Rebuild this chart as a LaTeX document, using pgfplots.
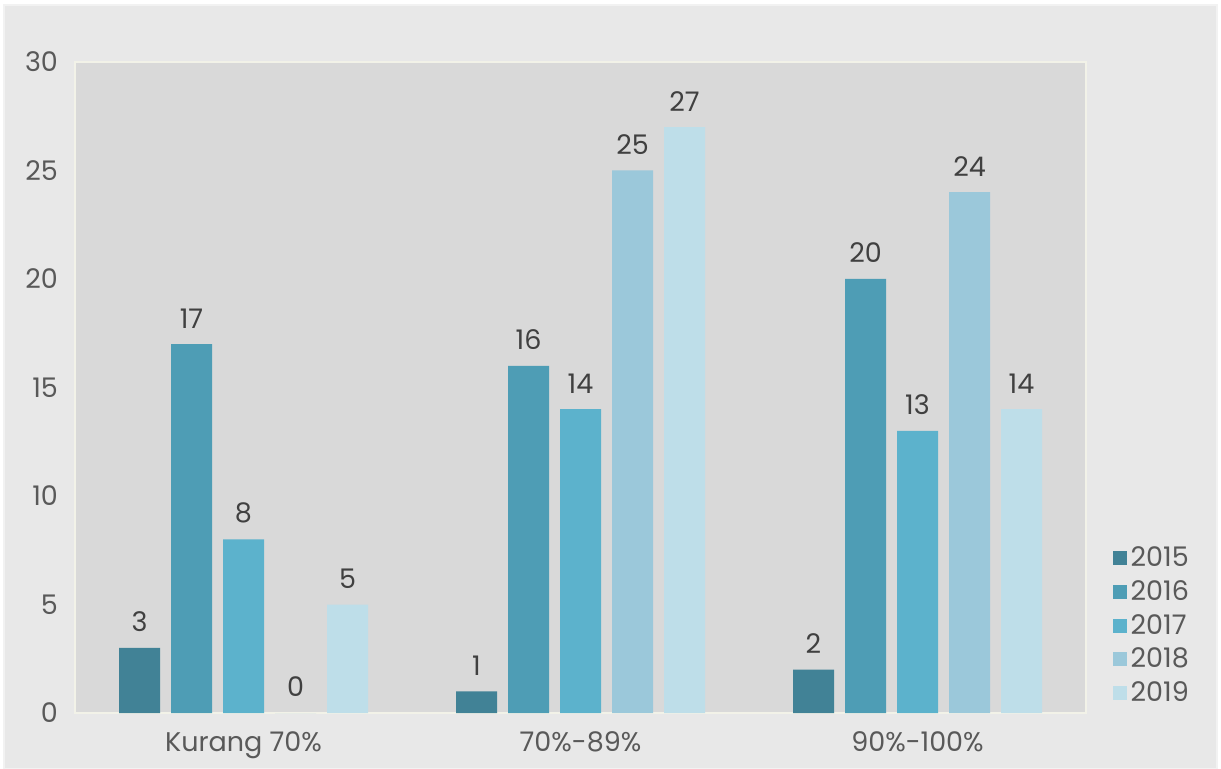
\documentclass[border=0pt]{standalone}
\usepackage{pgfplots}
\pgfplotsset{compat=1.18}
\usepackage{fontspec}
\setmainfont{Poppins}
\definecolor{outerbg}{RGB}{232,232,232}
\definecolor{plotbg}{RGB}{217,217,217}
\definecolor{frame}{RGB}{242,242,232}
\definecolor{txt}{RGB}{89,89,89}
\definecolor{lbl}{RGB}{64,64,64}
\definecolor{cA}{RGB}{65,130,150}
\definecolor{cB}{RGB}{78,157,181}
\definecolor{cC}{RGB}{92,178,204}
\definecolor{cD}{RGB}{155,200,218}
\definecolor{cE}{RGB}{190,222,233}
\begin{document}
\begin{tikzpicture}[x=0.5pt,y=-0.5pt]
\useasboundingbox (0,0) rectangle (1221,769);
\fill[white] (0,0) rectangle (1221,769);
\fill[outerbg] (4,5) rectangle (1217,769);
\draw[white!90!gray, line width=0.6pt] (4,5) rectangle (1217,769);
\begin{axis}[
  at={(37.5pt,-356.5pt)}, anchor=south west,
  scale only axis, width=505.5pt, height=325.5pt,
  ybar=5.5pt, bar width=20.5pt,
  xmin=-0.5, xmax=2.5, ymin=0, ymax=30,
  xtick={0,1,2}, xticklabels={Kurang 70\%,70\%-89\%,90\%-100\%},
  ytick={0,5,10,15,20,25,30},
  major tick length=0pt,
  axis background/.style={fill=plotbg},
  axis line style={draw=frame, line width=0.8pt},
  font=\fontsize{13.5}{16}\selectfont,
  tick label style={text=txt},
  /pgf/number format/assume math mode=true,
  xticklabel style={yshift=-6pt},
  yticklabel style={xshift=-5pt},
  nodes near coords,
  nodes near coords style={text=lbl, yshift=4.5pt, font=\fontsize{13.5}{16}\selectfont},
  legend style={at={(1.02,0.268)}, anchor=north west, draw=none, fill=none,
    font=\fontsize{13.5}{16}\selectfont, text=txt, row sep=1.4pt},
  legend cell align=left,
  legend image code/.code={\fill[#1] (0pt,-3.5pt) rectangle (7pt,3.5pt);},
]
\addplot[fill=cA, draw=none] coordinates {(0,3) (1,1) (2,2)};
\addplot[fill=cB, draw=none] coordinates {(0,17) (1,16) (2,20)};
\addplot[fill=cC, draw=none] coordinates {(0,8) (1,14) (2,13)};
\addplot[fill=cD, draw=none] coordinates {(0,0) (1,25) (2,24)};
\addplot[fill=cE, draw=none] coordinates {(0,5) (1,27) (2,14)};
\legend{2015,2016,2017,2018,2019}
\end{axis}
\end{tikzpicture}
\end{document}
